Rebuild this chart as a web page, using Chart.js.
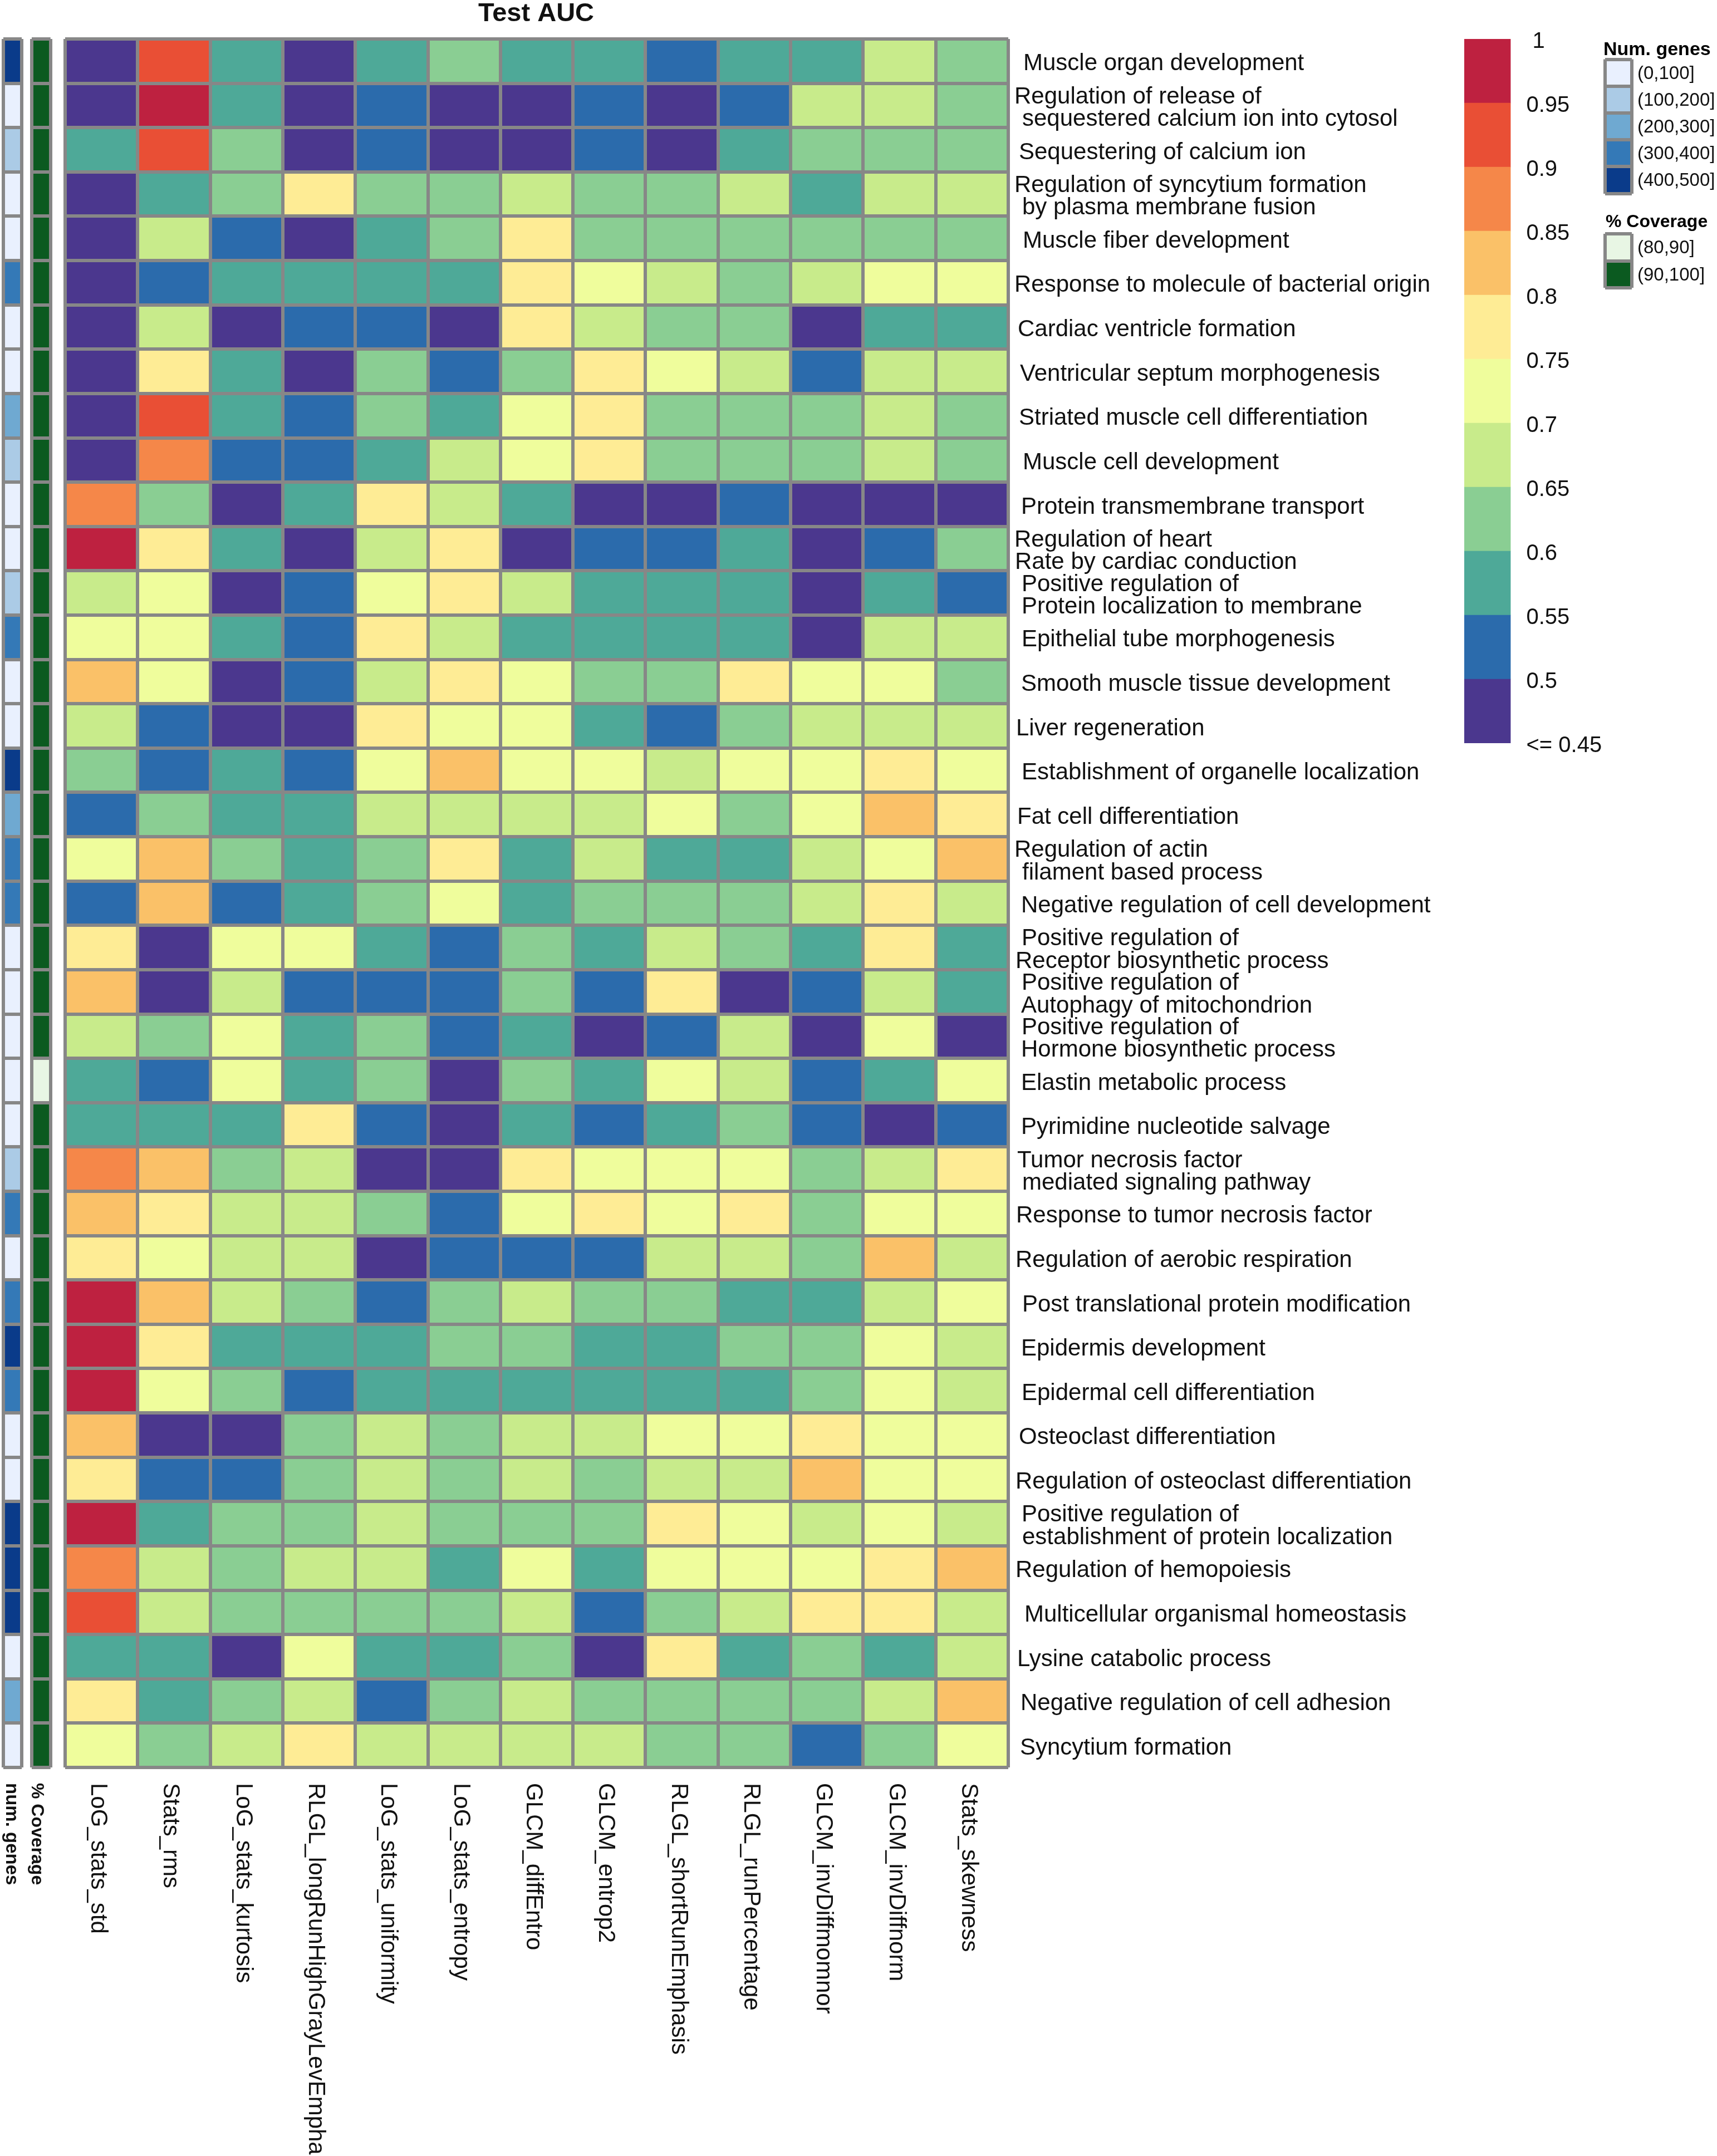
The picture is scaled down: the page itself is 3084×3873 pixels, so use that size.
<!DOCTYPE html>
<html>
<head>
<meta charset="utf-8">
<title>Test AUC</title>
<script src="https://cdn.jsdelivr.net/npm/chart.js@4"></script>
<style>
  html, body { margin: 0; background: #fff; overflow: hidden; }
  canvas { position: absolute; left: 0; top: 0; }
</style>
</head>
<body>
<script>
const featureNames = ['LoG_stats_std', 'Stats_rms', 'LoG_stats_kurtosis', 'RLGL_longRunHighGrayLevEmpha', 'LoG_stats_uniformity', 'LoG_stats_entropy', 'GLCM_diffEntro', 'GLCM_entrop2', 'RLGL_shortRunEmphasis', 'RLGL_runPercentage', 'GLCM_invDiffmomnor', 'GLCM_invDiffnorm', 'Stats_skewness'];

const rowLabels = [
  ['Muscle organ development'],
  ['Regulation of release of', 'sequestered calcium ion into cytosol'],
  ['Sequestering of calcium ion'],
  ['Regulation of syncytium formation', 'by plasma membrane fusion'],
  ['Muscle fiber development'],
  ['Response to molecule of bacterial origin'],
  ['Cardiac ventricle formation'],
  ['Ventricular septum morphogenesis'],
  ['Striated muscle cell differentiation'],
  ['Muscle cell development'],
  ['Protein transmembrane transport'],
  ['Regulation of heart', 'Rate by cardiac conduction'],
  ['Positive regulation of', 'Protein localization to membrane'],
  ['Epithelial tube morphogenesis'],
  ['Smooth muscle tissue development'],
  ['Liver regeneration'],
  ['Establishment of organelle localization'],
  ['Fat cell differentiation'],
  ['Regulation of actin', 'filament based process'],
  ['Negative regulation of cell development'],
  ['Positive regulation of', 'Receptor biosynthetic process'],
  ['Positive regulation of', 'Autophagy of mitochondrion'],
  ['Positive regulation of', 'Hormone biosynthetic process'],
  ['Elastin metabolic process'],
  ['Pyrimidine nucleotide salvage'],
  ['Tumor necrosis factor', 'mediated signaling pathway'],
  ['Response to tumor necrosis factor'],
  ['Regulation of aerobic respiration'],
  ['Post translational protein modification'],
  ['Epidermis development'],
  ['Epidermal cell differentiation'],
  ['Osteoclast differentiation'],
  ['Regulation of osteoclast differentiation'],
  ['Positive regulation of', 'establishment of protein localization'],
  ['Regulation of hemopoiesis'],
  ['Multicellular organismal homeostasis'],
  ['Lysine catabolic process'],
  ['Negative regulation of cell adhesion'],
  ['Syncytium formation']
];

// left edge of each label line, the labels were placed by hand in the original
const rowLabelX = [
  [1838], [1822, 1836], [1830], [1822, 1836], [1837], [1822], [1828], [1832], [1830], [1837],
  [1834], [1822, 1823], [1835, 1835], [1835], [1834], [1825], [1835], [1827], [1822, 1836], [1834],
  [1835, 1824], [1835, 1834], [1835, 1834], [1834], [1834], [1827, 1836], [1825], [1824], [1836], [1834],
  [1835], [1830], [1824], [1835, 1836], [1824], [1840], [1827], [1833], [1832]
];

const aucRows = [
  [.47, .92, .57, .47, .57, .62, .57, .57, .52, .57, .57, .67, .62],
  [.47, .97, .57, .47, .52, .47, .47, .52, .47, .52, .67, .67, .62],
  [.57, .92, .62, .47, .52, .47, .47, .52, .47, .57, .62, .62, .62],
  [.47, .57, .62, .77, .62, .62, .67, .62, .62, .67, .57, .67, .67],
  [.47, .67, .52, .47, .57, .62, .77, .62, .62, .62, .62, .62, .62],
  [.47, .52, .57, .57, .57, .57, .77, .72, .67, .62, .67, .72, .72],
  [.47, .67, .47, .52, .52, .47, .77, .67, .62, .62, .47, .57, .57],
  [.47, .77, .57, .47, .62, .52, .62, .77, .72, .67, .52, .67, .67],
  [.47, .92, .57, .52, .62, .57, .72, .77, .62, .62, .62, .67, .62],
  [.47, .87, .52, .52, .57, .67, .72, .77, .62, .62, .62, .67, .62],
  [.87, .62, .47, .57, .77, .67, .57, .47, .47, .52, .47, .47, .47],
  [.97, .77, .57, .47, .67, .77, .47, .52, .52, .57, .47, .52, .62],
  [.67, .72, .47, .52, .72, .77, .67, .57, .57, .57, .47, .57, .52],
  [.72, .72, .57, .52, .77, .67, .57, .57, .57, .57, .47, .67, .67],
  [.82, .72, .47, .52, .67, .77, .72, .62, .62, .77, .72, .72, .62],
  [.67, .52, .47, .47, .77, .72, .72, .57, .52, .62, .67, .67, .67],
  [.62, .52, .57, .52, .72, .82, .72, .72, .67, .72, .72, .77, .72],
  [.52, .62, .57, .57, .67, .67, .67, .67, .72, .62, .72, .82, .77],
  [.72, .82, .62, .57, .62, .77, .57, .67, .57, .57, .67, .72, .82],
  [.52, .82, .52, .57, .62, .72, .57, .62, .62, .62, .67, .77, .67],
  [.77, .47, .72, .72, .57, .52, .62, .57, .67, .62, .57, .77, .57],
  [.82, .47, .67, .52, .52, .52, .62, .52, .77, .47, .52, .67, .57],
  [.67, .62, .72, .57, .62, .52, .57, .47, .52, .67, .47, .72, .47],
  [.57, .52, .72, .57, .62, .47, .62, .57, .72, .67, .52, .57, .72],
  [.57, .57, .57, .77, .52, .47, .57, .52, .57, .62, .52, .47, .52],
  [.87, .82, .62, .67, .47, .47, .77, .72, .72, .72, .62, .67, .77],
  [.82, .77, .67, .67, .62, .52, .72, .77, .72, .77, .62, .72, .72],
  [.77, .72, .67, .67, .47, .52, .52, .52, .67, .67, .62, .82, .67],
  [.97, .82, .67, .62, .52, .62, .67, .62, .62, .57, .57, .67, .72],
  [.97, .77, .57, .57, .57, .62, .62, .57, .57, .62, .62, .72, .67],
  [.97, .72, .62, .52, .57, .57, .57, .57, .57, .57, .62, .72, .67],
  [.82, .47, .47, .62, .67, .62, .67, .67, .72, .72, .77, .72, .72],
  [.77, .52, .52, .62, .67, .62, .67, .62, .67, .67, .82, .72, .72],
  [.97, .57, .62, .62, .67, .62, .62, .62, .77, .72, .67, .72, .67],
  [.87, .67, .62, .67, .67, .57, .72, .57, .72, .72, .72, .77, .82],
  [.92, .67, .62, .62, .62, .62, .67, .52, .62, .67, .77, .77, .67],
  [.57, .57, .47, .72, .57, .57, .62, .47, .77, .57, .62, .57, .67],
  [.77, .57, .62, .67, .52, .62, .67, .62, .62, .62, .62, .67, .82],
  [.72, .62, .67, .77, .67, .67, .67, .67, .62, .62, .52, .62, .72]
];

const numGenes = [450, 50, 150, 50, 50, 350, 50, 50, 250, 150, 50, 50, 150, 350, 50, 50, 450, 250, 350, 350, 50, 50, 50, 50, 50, 150, 350, 50, 350, 450, 350, 50, 50, 450, 450, 450, 50, 250, 50];
const coverage = [95, 95, 95, 95, 95, 95, 95, 95, 95, 95, 95, 95, 95, 95, 95, 95, 95, 95, 95, 95, 95, 95, 95, 85, 95, 95, 95, 95, 95, 95, 95, 95, 95, 95, 95, 95, 95, 95, 95];

const aucBreaks = [.45, .5, .55, .6, .65, .7, .75, .8, .85, .9, .95, 1];
const aucTickLabels = ['<= 0.45', '0.5', '0.55', '0.6', '0.65', '0.7', '0.75', '0.8', '0.85', '0.9', '0.95', ' 1'];
const aucColors = ['#4B378E', '#2B6BAC', '#4EA998', '#8ACE93', '#C8EB8B', '#EFFD9C', '#FEEC95', '#FAC168', '#F58749', '#E94F35', '#BE2140'];

const geneBreaks = [0, 100, 200, 300, 400, 500];
const geneLabels = ['(0,100]', '(100,200]', '(200,300]', '(300,400]', '(400,500]'];
const geneLegendValues = [50, 150, 250, 350, 450];
const geneColors = ['#E9F0FE', '#ABCBE6', '#6FA9D1', '#3479B7', '#0A3B8A'];

const coverageBreaks = [80, 90, 100];
const coverageLabels = ['(80,90]', '(90,100]'];
const coverageLegendValues = [85, 95];
const coverageColors = ['#E8F6E4', '#0B5A20'];

const PAGE_W = 3084, PAGE_H = 3873;
const GRID_GREY = '#878787';
const FONT = "'Liberation Sans', Arial, sans-serif";

Chart.defaults.font.family = FONT;
Chart.defaults.color = '#111';
Chart.defaults.animation = false;
Chart.defaults.responsive = false;
Chart.defaults.devicePixelRatio = 1;
Chart.defaults.plugins.legend.display = false;
Chart.defaults.plugins.tooltip.enabled = false;

function newCanvas() {
  const c = document.createElement('canvas');
  c.width = PAGE_W;
  c.height = PAGE_H;
  document.body.appendChild(c);
  return c.getContext('2d');
}

function bandColor(v, breaks, colors) {
  for (let i = 0; i < colors.length; i++) {
    if (v <= breaks[i + 1]) return colors[i];
  }
  return colors[colors.length - 1];
}

// sideWidth is the room kept right of the box for a tick label axis
function plotBox(box, sideWidth) {
  return { left: box[0], top: box[1], right: PAGE_W - box[2] - (sideWidth || 0), bottom: PAGE_H - box[3] };
}

function zeroWidth(scale) { scale.width = 0; }
function zeroHeight(scale) { scale.height = 0; }
function fixedWidth(w) { return scale => { scale.width = w; }; }

// every heat block is a floating bar chart: one dataset per row
function heatmap(box, xLabels, rows, breaks, colors, lineWidth, sideLabels, sideFont, plugins) {
  const sideWidth = sideLabels ? 150 : 0;
  const scales = {
    x: {
      type: 'category', offset: true,
      ticks: { display: false, autoSkip: false },
      grid: { offset: true, color: GRID_GREY, lineWidth: lineWidth, z: 1, drawTicks: false },
      border: { display: false },
      afterFit: zeroHeight
    },
    y: {
      type: 'linear', min: 0, max: rows.length, reverse: true,
      ticks: { display: false, stepSize: 1, autoSkip: false },
      grid: { color: GRID_GREY, lineWidth: lineWidth, z: 1, drawTicks: false },
      border: { display: false },
      afterFit: zeroWidth
    }
  };
  if (sideLabels) {
    scales.side = {
      type: 'category', position: 'right', labels: sideLabels, offset: true,
      ticks: { padding: 10, labelOffset: 2, font: { size: sideFont }, autoSkip: false },
      grid: { display: false, drawTicks: false },
      border: { display: false },
      afterFit: fixedWidth(sideWidth)
    };
  }
  return new Chart(newCanvas(), {
    type: 'bar',
    data: {
      labels: xLabels,
      datasets: rows.map((row, r) => ({
        data: row.map(() => [r, r + 1]),
        backgroundColor: row.map(v => bandColor(v, breaks, colors)),
        grouped: false,
        barPercentage: 1,
        categoryPercentage: 1,
        borderWidth: 0
      }))
    },
    options: { layout: { padding: plotBox(box, sideWidth) }, scales: scales },
    plugins: plugins || []
  });
}

// labels that read top to bottom under a column
function columnLabels(names, top, shift, font) {
  return {
    id: 'columnLabels',
    afterDraw(chart) {
      const ctx = chart.ctx, x = chart.scales.x;
      ctx.save();
      ctx.font = font;
      ctx.fillStyle = '#111';
      ctx.textBaseline = 'alphabetic';
      ctx.textAlign = 'left';
      names.forEach((name, i) => {
        ctx.save();
        ctx.translate(x.getPixelForTick(i) + shift, top);
        ctx.rotate(Math.PI / 2);
        ctx.fillText(name, 0, 0);
        ctx.restore();
      });
      ctx.restore();
    }
  };
}

const rowText = {
  id: 'rowText',
  afterDraw(chart) {
    const ctx = chart.ctx, y = chart.scales.y;
    ctx.save();
    ctx.font = '42px ' + FONT;
    ctx.fillStyle = '#111';
    ctx.textBaseline = 'middle';
    ctx.textAlign = 'left';
    rowLabels.forEach((lines, r) => {
      const mid = y.getPixelForValue(r + 0.5) + 5;
      lines.forEach((line, k) => {
        const off = lines.length > 1 ? (k - 0.5) * 40.5 : 0;
        ctx.fillText(line, rowLabelX[r][k], mid + off);
      });
    });
    ctx.font = 'bold 47px ' + FONT;
    ctx.textAlign = 'center';
    ctx.fillText('Test AUC', 963, 25);
    ctx.restore();
  }
};

function captionAbove(text, x, y, font) {
  return {
    id: 'caption',
    afterDraw(chart) {
      const ctx = chart.ctx;
      ctx.save();
      ctx.font = font;
      ctx.fillStyle = '#000';
      ctx.textBaseline = 'alphabetic';
      ctx.fillText(text, x, y);
      ctx.restore();
    }
  };
}

// main block
heatmap([117, 70, 1811, 3175], featureNames, aucRows, aucBreaks, aucColors, 6, null, 0,
  [rowText, columnLabels(featureNames, 3203, -18, '42px ' + FONT)]);

// annotation strips
heatmap([5.7, 70, 39, 3175], ['num. genes'], numGenes.map(v => [v]), geneBreaks, geneColors, 6, null, 0,
  [columnLabels(['num. genes'], 3203, -11, 'bold 33px ' + FONT)]);
heatmap([56.7, 70, 90.7, 3175], ['% Coverage'], coverage.map(v => [v]), coverageBreaks, coverageColors, 6, null, 0,
  [columnLabels(['% Coverage'], 3203, -17, 'bold 32px ' + FONT)]);

// category legends
heatmap([2883, 106.5, 2931, 347.5], ['Num. genes'], geneLegendValues.map(v => [v]), geneBreaks, geneColors, 6, geneLabels, 33,
  [captionAbove('Num. genes', 2880, 99, 'bold 34px ' + FONT)]);
heatmap([2883, 420, 2931, 517], ['% Coverage'], coverageLegendValues.map(v => [v]), coverageBreaks, coverageColors, 6, coverageLabels, 33,
  [captionAbove('% Coverage', 2884, 408, 'bold 32px ' + FONT)]);

// colour bar
new Chart(newCanvas(), {
  type: 'bar',
  data: {
    labels: ['AUC'],
    datasets: aucColors.map((color, i) => ({
      data: [[aucBreaks[i], aucBreaks[i + 1]]],
      backgroundColor: color,
      grouped: false,
      barPercentage: 1,
      categoryPercentage: 1,
      borderWidth: 0
    }))
  },
  options: {
    layout: { padding: plotBox([2630, 70, 2713.5, 1335], 240) },
    scales: {
      x: { offset: true, ticks: { display: false }, grid: { display: false, drawTicks: false }, border: { display: false }, afterFit: zeroHeight },
      y: {
        position: 'right', min: 0.45, max: 1,
        ticks: { stepSize: 0.05, padding: 28, labelOffset: 5, font: { size: 40 }, callback: (v, i) => aucTickLabels[i] },
        grid: { display: false, drawTicks: false },
        border: { display: false },
        afterFit: fixedWidth(240)
      }
    }
  }
});
</script>
</body>
</html>
